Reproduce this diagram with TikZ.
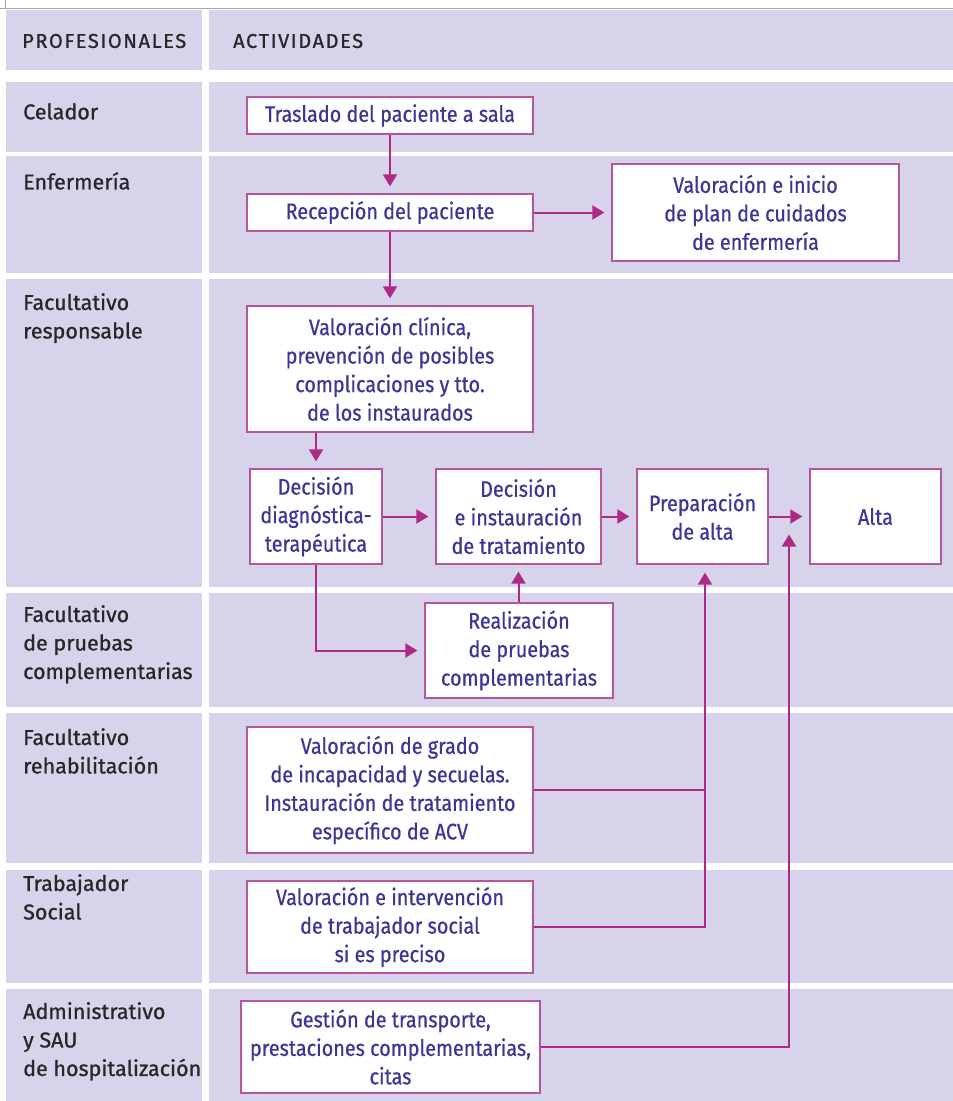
\documentclass[tikz,border=0pt]{standalone}
\usepackage{fontspec}
\setmainfont{Fira Sans}
\newfontfamily\boxfont{Fira Sans}[FakeStretch=0.88, FakeBold=0.7]
\newfontfamily\labfont{Fira Sans}[FakeBold=0.9]
\usetikzlibrary{arrows.meta,calc}
\definecolor{lav}{RGB}{215,211,234}
\definecolor{magline}{RGB}{172,42,132}
\definecolor{boxline}{RGB}{182,84,160}
\definecolor{txtblue}{RGB}{58,56,148}
\definecolor{labgray}{RGB}{42,38,39}
\tikzset{
  actbox/.style={draw=boxline, line width=1.3pt, fill=white, text=txtblue,
    font=\boxfont\fontsize{22.5}{28.5}\selectfont, align=center, inner sep=0pt},
  lab/.style={anchor=north west, inner sep=0pt, align=left, text=labgray,
    font=\labfont\fontsize{21.5}{28.5}\selectfont},
  hdr/.style={anchor=west, inner sep=0pt, text=labgray,
    font=\labfont\fontsize{20}{24}\selectfont\addfontfeature{LetterSpace=8}},
  flow/.style={draw=magline, line width=2pt, -{Triangle[width=14pt,length=12pt]}, shorten >=7pt},
  conn/.style={draw=magline, line width=2pt}
}
\begin{document}
\begin{tikzpicture}[x=1pt,y=-1pt]
\useasboundingbox (0,0) rectangle (953,1101);
\fill[white] (0,0) rectangle (953,1101);
\draw[gray!70, line width=1pt] (0,8) -- (953,8);
\draw[gray!70, line width=1pt] (5,0) -- (5,8);
% row cells
\foreach \a/\b in {10/70,82/152,156/273,279/587,593/707,713/863,870/983,989/1101}{
  \fill[lav] (6,\a) rectangle (202,\b);
  \fill[lav] (209,\a) rectangle (953,\b);
}
% headers
\node[hdr] (hprof) at (22,41) {PROFESIONALES};
\node[hdr] (hact) at (233,41) {ACTIVIDADES};
% labels
\node[lab] (lcel) at (23,103) {Celador};
\node[lab] (lenf) at (23,172) {Enfermería};
\node[lab] (lfr) at (23,293) {Facultativo\\responsable};
\node[lab] (lfp) at (23,605) {Facultativo\\de pruebas\\complementarias};
\node[lab] (lfreh) at (23,728) {Facultativo\\rehabilitación};
\node[lab] (lts) at (23,874) {Trabajador\\Social};
\node[lab] (ladm) at (23,1002) {Administrativo\\y SAU\\de hospitalización};
% boxes
\node[actbox, minimum width=286pt, minimum height=37pt] (trasl) at (390,115.5) {Traslado del paciente a sala};
\node[actbox, minimum width=286pt, minimum height=37pt] (recep) at (390,212.5) {Recepción del paciente};
\node[actbox, minimum width=287pt, minimum height=97pt] (valenf) at (755.5,212.5) {Valoración e inicio\\de plan de cuidados\\de enfermería};
\node[actbox, minimum width=286pt, minimum height=126pt] (valcli) at (390,369) {Valoración clínica,\\prevención de posibles\\complicaciones y tto.\\de los instaurados};
\node[actbox, minimum width=132pt, minimum height=95pt] (decdiag) at (316,516.5) {Decisión\\diagnóstica-\\terapéutica};
\node[actbox, minimum width=165pt, minimum height=95pt] (decinst) at (518.5,516.5) {Decisión\\e instauración\\de tratamiento};
\node[actbox, minimum width=131pt, minimum height=95pt] (prep) at (702.5,516.5) {Preparación\\de alta};
\node[actbox, minimum width=131pt, minimum height=95pt] (alta) at (875.5,516.5) {Alta};
\node[actbox, minimum width=188pt, minimum height=95pt] (realiz) at (519,650.5) {Realización\\de pruebas\\complementarias};
\node[actbox, minimum width=286pt, minimum height=126pt] (valgrado) at (390,790) {Valoración de grado\\de incapacidad y secuelas.\\Instauración de tratamiento\\específico de ACV};
\node[actbox, minimum width=286pt, minimum height=92pt] (valts) at (390,927) {Valoración e intervención\\de trabajador social\\si es preciso};
\node[actbox, minimum width=299pt, minimum height=92pt] (gestion) at (390.5,1047) {Gestión de transporte,\\prestaciones complementarias,\\citas};
% connectors
\draw[flow] (trasl.south) -- (recep.north);
\draw[flow] (recep.south) -- (valcli.north);
\draw[flow] (recep.east) -- (valenf.west);
\draw[flow] (valcli.south -| decdiag.north) -- (decdiag.north);
\draw[flow] (decdiag.east) -- (decinst.west);
\draw[flow] (decinst.east) -- (prep.west);
\draw[flow] (prep.east) -- (alta.west);
\draw[flow] (decdiag.south) |- (realiz.west);
\draw[flow] (realiz.north -| decinst.south) -- (decinst.south);
\coordinate (vj) at ([xshift=2.5pt]prep.south |- valgrado.east);
\draw[flow, shorten >=8pt] (valgrado.east) -| ([xshift=2.5pt]prep.south);
\draw[conn] (valts.east) -| (vj);
\coordinate (gtip) at ($($(prep.east)!0.5!(alta.west)$) + (0,18)$);
\draw[flow, shorten >=0pt] (gestion.east) -| (gtip);
\end{tikzpicture}
\end{document}
